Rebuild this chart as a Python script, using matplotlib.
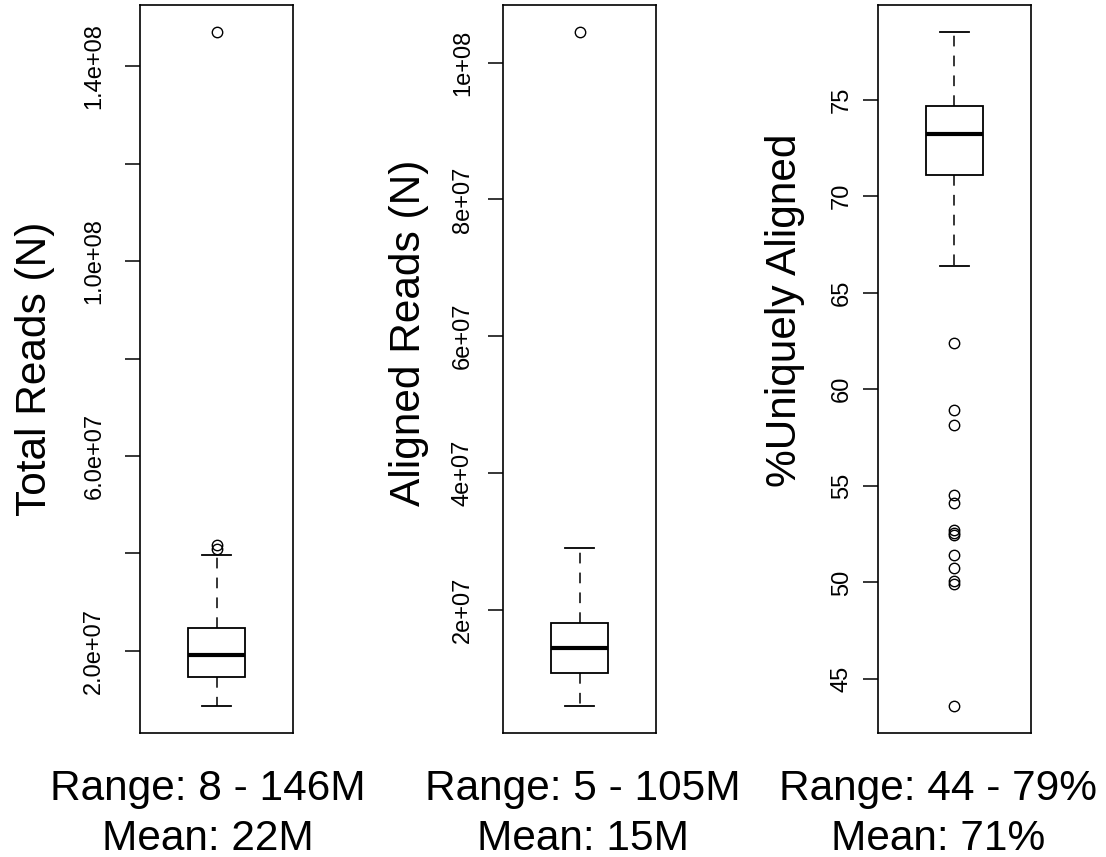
import matplotlib
matplotlib.use("Agg")
import matplotlib.pyplot as plt

plt.rcParams['font.family'] = ['Liberation Sans', 'DejaVu Sans']

# box statistics
ylabels = ["Total Reads (N)", "Aligned Reads (N)", "%Uniquely Aligned"]

total_stats = dict(whislo=0.87e7, q1=1.47e7, med=1.92e7, q3=2.47e7, whishi=3.97e7,
                   fliers=[4.09e7, 4.17e7, 1.47e8])
aligned_stats = dict(whislo=0.59e7, q1=1.08e7, med=1.44e7, q3=1.80e7, whishi=2.90e7,
                     fliers=[1.045e8])
uniq_stats = dict(whislo=66.4, q1=71.1, med=73.2, q3=74.65, whishi=78.5,
                  fliers=[62.4, 58.95, 58.15, 54.55, 54.1, 52.7, 52.55, 52.45,
                          51.4, 50.75, 50.05, 49.9, 43.6])

total_ticks = [2e7, 4e7, 6e7, 8e7, 1e8, 1.2e8, 1.4e8]
total_ticklabels = ["2.0e+07", "", "6.0e+07", "", "1.0e+08", "", "1.4e+08"]
aligned_ticks = [2e7, 4e7, 6e7, 8e7, 1e8]
aligned_ticklabels = ["2e+07", "4e+07", "6e+07", "8e+07", "1e+08"]
uniq_ticks = [45, 50, 55, 60, 65, 70, 75]
uniq_ticklabels = ["45", "50", "55", "60", "65", "70", "75"]

captions = ["Range: 8 - 146M\nMean: 22M",
            "Range: 5 - 105M\nMean: 15M",
            "Range: 44 - 79%\nMean: 71%"]

W, H = 1106, 857
fig = plt.figure(figsize=(W / 100, H / 100), dpi=100)

# left edge, label pad (pt), ylabel x/y centre, caption centre (pixels)
panels = [
    (total_stats, total_ticks, total_ticklabels, 140, 14, 35, 369, 208),
    (aligned_stats, aligned_ticks, aligned_ticklabels, 503, 10, 409, 333, 583),
    (uniq_stats, uniq_ticks, uniq_ticklabels, 878, 7, 785, 310, 938),
]

for i, (st, ticks, tlabels, left, pad, lx, ly, cx) in enumerate(panels):
    ax = fig.add_axes([left / W, 1 - 733 / H, 153 / W, 728 / H])
    ax.bxp([st], positions=[1], widths=0.4, patch_artist=True,
           boxprops=dict(facecolor='white', edgecolor='black', linewidth=1.3),
           medianprops=dict(color='black', linewidth=3),
           whiskerprops=dict(color='black', linewidth=1.1, linestyle=(0, (7, 6))),
           capprops=dict(color='black', linewidth=1.3),
           flierprops=dict(marker='o', markersize=7.5, markerfacecolor='none',
                           markeredgecolor='black', markeredgewidth=1.0))
    vals = [st['whislo'], st['whishi']] + list(st['fliers'])
    lo, hi = min(vals), max(vals)
    r = hi - lo
    ax.set_ylim(lo - 0.04 * r, hi + 0.04 * r)
    ax.set_xlim(0.46, 1.54)
    ax.set_xticks([])
    ax.set_yticks(ticks)
    ax.set_yticklabels(tlabels, rotation=90, va='center')
    ax.tick_params(axis='y', length=11, width=1.1, labelsize=17, pad=pad)
    for s in ax.spines.values():
        s.set_linewidth(1.2)
    fig.text(lx / W, 1 - ly / H, ylabels[i], rotation=90, ha='center', va='center', fontsize=30.5)
    first, second = captions[i].split("\n")
    fig.text(cx / W, 1 - 800 / H, first, ha='center', va='baseline', fontsize=30.5)
    fig.text(cx / W, 1 - 850 / H, second, ha='center', va='baseline', fontsize=30.5)

plt.savefig("out.png", dpi=100)
